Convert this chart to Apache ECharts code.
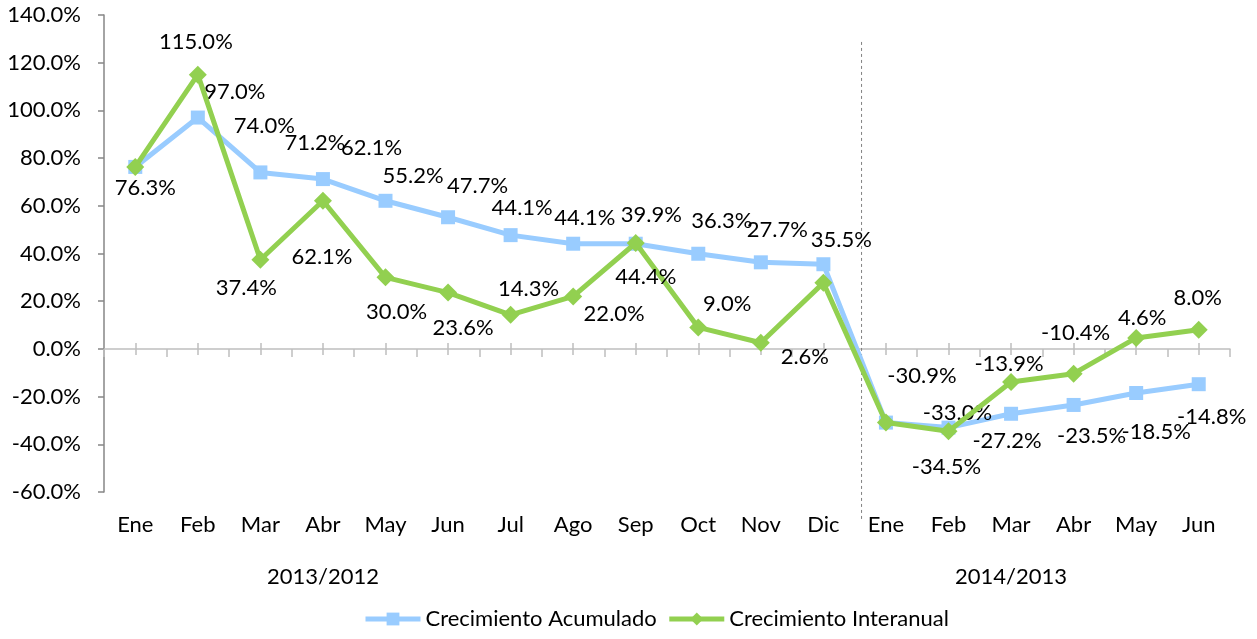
<!DOCTYPE html>
<html>
<head>
<meta charset="utf-8">
<script src="https://cdn.jsdelivr.net/npm/echarts@6/dist/echarts.min.js"></script>
<style>
html,body{margin:0;padding:0;background:#fff;}
#chart{width:1257px;height:639px;}
</style>
</head>
<body>
<div id="chart"></div>
<script>
const categories = ['Ene','Feb','Mar','Abr','May','Jun','Jul','Ago','Sep','Oct','Nov','Dic','Ene','Feb','Mar','Abr','May','Jun'];
const acumulado  = [76.3, 97.0, 74.0, 71.2, 62.1, 55.2, 47.7, 44.1, 44.1, 39.9, 36.3, 35.5, -30.9, -33.0, -27.2, -23.5, -18.5, -14.8];
const interanual = [76.3, 115.0, 37.4, 62.1, 30.0, 23.6, 14.3, 22.0, 44.4, 9.0, 2.6, 27.7, -30.9, -34.5, -13.9, -10.4, 4.6, 8.0];
const groupLabels = ['', '', '', '2013/2012', '', '', '', '', '', '', '', '', '', '', '2014/2013', '', '', ''];
const yMin = -60, yMax = 140, yStep = 20;

// label placement (pixel offsets from each point), style only
const acumLabelOffsets = [null,[37,-26],[4,-47],[-8,-36],[-14,-53],[-35,-41],[-33,-49],[-51,-36],[-51,-26],[-47,-39],[-39,-41],[18,-24],null,[9,-15],[-4,27],[18,31],[20,39],[13,33]];
const interLabelOffsets = [[10,21],[-2,-33],[-14,28],[-1,56],[11,35],[15,35],[18,-26],[41,17],[10,34],[29,-24],[44,14],[-46,-53],[36,-47],[-2,36],[-2,-18],[2,-41],[6,-20],[-1,-32]];

const FONT = 'Lato';
const FS = 22;
const BLUE = '#99CCFF', GREEN = '#92D050';
const fmt = v => v.toFixed(1) + '%';

function buildData(values, offsets) {
  return values.map((v, i) => {
    const off = offsets[i];
    return {
      value: v,
      label: off ? { show: true, position: 'inside', offset: off } : { show: false }
    };
  });
}

const chart = echarts.init(document.getElementById('chart'), null, {renderer: 'canvas'});

const catAxisBase = { type: 'category', data: categories, boundaryGap: true, gridIndex: 0, position: 'bottom' };

const option = {
  animation: false,
  backgroundColor: '#ffffff',
  textStyle: { fontFamily: FONT },
  grid: { left: 104, right: 27, top: 15, bottom: 147, containLabel: false },
  legend: {
    bottom: 4,
    left: 358,
    itemWidth: 55,
    itemHeight: 16,
    itemGap: 10,
    textStyle: { fontFamily: FONT, fontSize: FS, color: '#000' },
    data: [
      { name: 'Crecimiento Acumulado', lineStyle: { width: 5, color: BLUE }, itemStyle: { color: BLUE } },
      { name: 'Crecimiento Interanual', lineStyle: { width: 5, color: GREEN }, itemStyle: { color: GREEN } }
    ]
  },
  xAxis: [
    Object.assign({}, catAxisBase, {
      axisLine: { show: true, onZero: true, lineStyle: { color: '#BFBFBF', width: 1.5 } },
      axisTick: { show: true, alignWithLabel: false, length: 8, inside: false, lineStyle: { color: '#BFBFBF', width: 1.5 } },
      axisLabel: { show: false }, splitLine: { show: false }
    }),
    Object.assign({}, catAxisBase, {
      axisLine: { show: false, onZero: false },
      axisTick: { show: true, alignWithLabel: true, length: 6, inside: true, lineStyle: { color: '#BFBFBF', width: 1.5 } },
      axisLabel: { show: false }, splitLine: { show: false }
    }),
    Object.assign({}, catAxisBase, {
      axisLine: { show: false, onZero: false },
      axisTick: { show: true, alignWithLabel: true, length: 6, inside: false, lineStyle: { color: '#BFBFBF', width: 1.5 } },
      axisLabel: { show: false }, splitLine: { show: false }
    }),
    Object.assign({}, catAxisBase, {
      axisLine: { show: false, onZero: false },
      axisTick: { show: false },
      axisLabel: { show: true, interval: 0, margin: 22, fontFamily: FONT, fontSize: FS, color: '#000' },
      splitLine: { show: false }
    }),
    Object.assign({}, catAxisBase, {
      axisLine: { show: false, onZero: false },
      axisTick: { show: false },
      axisLabel: { show: true, interval: 0, margin: 74, fontFamily: FONT, fontSize: FS, color: '#000',
        formatter: (v, i) => groupLabels[i] },
      splitLine: { show: false }
    })
  ],
  yAxis: {
    type: 'value',
    min: yMin, max: yMax, interval: yStep,
    axisLine: { show: true, lineStyle: { color: '#868686', width: 1.5 } },
    axisTick: { show: true, length: 6, lineStyle: { color: '#868686', width: 1.5 } },
    axisLabel: { margin: 23, fontFamily: FONT, fontSize: FS, color: '#000', formatter: fmt },
    splitLine: { show: false }
  },
  series: [
    {
      name: 'Crecimiento Acumulado',
      type: 'line',
      xAxisIndex: 0,
      data: buildData(acumulado, acumLabelOffsets),
      symbol: 'rect',
      symbolSize: 14,
      lineStyle: { color: BLUE, width: 5 },
      itemStyle: { color: BLUE },
      label: { fontFamily: FONT, fontSize: FS, color: '#000', align: 'center', verticalAlign: 'middle', formatter: p => fmt(p.value) },
      z: 2
    },
    {
      name: 'Crecimiento Interanual',
      type: 'line',
      xAxisIndex: 0,
      data: buildData(interanual, interLabelOffsets),
      symbol: 'diamond',
      symbolSize: 18,
      lineStyle: { color: GREEN, width: 5 },
      itemStyle: { color: GREEN },
      label: { fontFamily: FONT, fontSize: FS, color: '#000', align: 'center', verticalAlign: 'middle', formatter: p => fmt(p.value) },
      z: 3
    }
  ]
};

chart.setOption(option);

// move the centre-tick axes onto the zero line
const zeroY = chart.convertToPixel({ yAxisIndex: 0 }, 0);
const bottomY = chart.convertToPixel({ yAxisIndex: 0 }, yMin);
const zeroOffset = -(bottomY - zeroY);

// dashed separator between the two periods
const xDic = chart.convertToPixel({ xAxisIndex: 0 }, 11);
const xEne = chart.convertToPixel({ xAxisIndex: 0 }, 12);
const sepX = xDic + (xEne - xDic) * 0.61;
const sepTop = chart.convertToPixel({ yAxisIndex: 0 }, 128.7);
const sepBottom = chart.convertToPixel({ yAxisIndex: 0 }, -72);
chart.setOption({
  xAxis: [{}, { offset: zeroOffset }, { offset: zeroOffset }, {}, {}],
  graphic: [{
    type: 'line',
    shape: { x1: sepX, y1: sepTop, x2: sepX, y2: sepBottom },
    style: { stroke: '#808080', lineWidth: 1, lineDash: [3, 3] },
    z: 1
  }]
});
</script>
</body>
</html>
